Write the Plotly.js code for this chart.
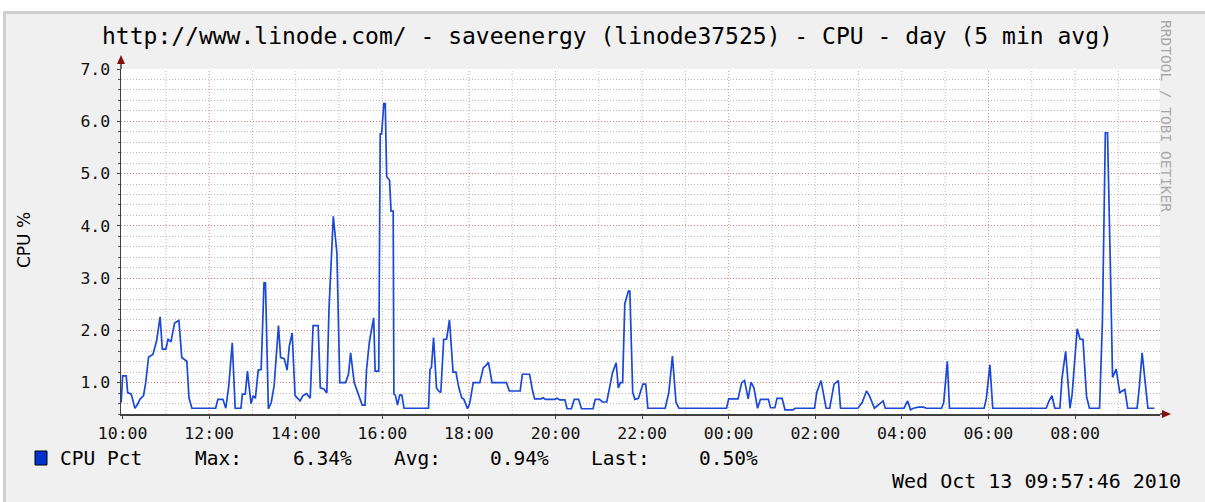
<!DOCTYPE html>
<html><head><meta charset="utf-8">
<script src="https://cdn.plot.ly/plotly-3.0.1.min.js"></script>
<style>
html,body{margin:0;padding:0;background:#ffffff;width:1205px;height:502px;overflow:hidden}
#frame{position:absolute;left:3px;top:11px;width:1202px;height:491px;box-sizing:border-box;border-left:3px solid #cfcfcf;border-top:3px solid #cfcfcf;background:#f0f0f0}
#chart{position:absolute;left:6px;top:14px;width:1199px;height:488px}
</style></head><body>
<div id="frame"></div><div id="chart"></div>
<script>
// ---- data (5 min averages, vertices of the line) ----
const times = ["09:58","10:00","10:05","10:07","10:12","10:17","10:21","10:24","10:29","10:32","10:36","10:42","10:47","10:52","10:55","11:00","11:03","11:07","11:12","11:18","11:22","11:26","11:29","11:32","11:36","12:09","12:12","12:19","12:23","12:27","12:32","12:36","12:44","12:46","12:50","12:53","12:58","13:01","13:04","13:08","13:12","13:16","13:18","13:22","13:26","13:30","13:36","13:39","13:44","13:48","13:51","13:55","13:59","14:06","14:10","14:15","14:20","14:24","14:31","14:34","14:39","14:43","14:46","14:52","14:57","15:01","15:09","15:13","15:16","15:21","15:27","15:32","15:36","15:38","15:42","15:48","15:50","15:55","15:57","15:59","16:02","16:04","16:06","16:10","16:12","16:15","16:16","16:18","16:21","16:24","16:27","16:30","17:04","17:06","17:08","17:11","17:15","17:18","17:21","17:25","17:29","17:33","17:38","17:42","17:46","17:50","17:53","17:58","18:01","18:06","18:15","18:20","18:23","18:27","18:32","18:52","18:56","19:11","19:14","19:24","19:28","19:31","19:40","19:43","19:46","19:59","20:02","20:06","20:13","20:16","20:22","20:26","20:32","20:36","20:52","20:55","21:01","21:05","21:11","21:13","21:19","21:24","21:27","21:30","21:33","21:36","21:41","21:43","21:47","21:50","21:55","22:01","22:05","22:08","22:32","22:37","22:42","22:47","22:51","23:57","00:00","00:13","00:18","00:22","00:27","00:31","00:35","00:40","00:44","00:55","00:58","01:04","01:07","01:14","01:18","01:29","01:32","01:59","02:02","02:08","02:12","02:15","02:20","02:26","02:32","02:35","02:59","03:05","03:11","03:15","03:22","03:25","03:34","03:37","04:03","04:08","04:12","04:16","04:23","04:30","04:34","04:55","04:58","05:03","05:06","05:54","05:57","06:02","06:06","07:20","07:24","07:28","07:32","07:39","07:42","07:47","07:53","07:56","08:03","08:07","08:11","08:16","08:20","08:34","08:38","08:42","08:45","08:49","08:52","08:57","09:02","09:09","09:13","09:26","09:29","09:33","09:37","09:41","09:50"];
const cpuPct = [0.62,1.13,1.13,0.81,0.78,0.51,0.59,0.68,0.75,1.00,1.49,1.54,1.79,2.26,1.64,1.64,1.83,1.78,2.14,2.19,1.48,1.44,1.41,0.71,0.51,0.51,0.68,0.68,0.51,0.92,1.76,0.51,0.51,0.78,0.78,1.22,0.60,0.75,0.70,1.24,1.25,2.91,2.91,0.50,0.62,0.94,2.09,1.48,1.46,1.24,1.70,1.95,0.75,0.65,0.75,0.79,0.70,2.09,2.09,0.90,0.88,0.80,2.40,4.18,3.48,1.00,1.00,1.16,1.57,1.00,0.75,0.57,0.57,1.24,1.78,2.24,1.22,1.22,5.76,5.76,6.34,6.34,4.94,4.87,4.28,4.28,0.78,0.76,0.57,0.76,0.76,0.51,0.51,1.25,1.29,1.86,0.90,0.84,0.81,1.83,1.83,2.20,1.20,1.20,0.90,0.71,0.68,0.50,0.60,1.00,1.00,1.29,1.32,1.39,1.00,1.00,0.84,0.84,1.16,1.16,0.86,0.69,0.69,0.71,0.68,0.68,0.70,0.67,0.67,0.50,0.50,0.68,0.68,0.50,0.50,0.68,0.68,0.63,0.63,0.78,1.19,1.38,0.90,1.00,1.00,2.51,2.75,2.75,0.81,0.68,0.70,0.97,0.97,0.51,0.51,0.81,1.51,0.62,0.51,0.51,0.69,0.69,1.00,1.04,0.69,1.01,0.90,0.51,0.68,0.68,0.52,0.52,0.70,0.70,0.48,0.48,0.51,0.51,0.81,1.04,0.75,0.51,0.51,0.97,1.04,0.51,0.51,0.62,0.84,0.75,0.51,0.55,0.65,0.51,0.51,0.65,0.48,0.51,0.53,0.53,0.51,0.51,0.62,1.41,0.51,0.51,0.69,1.34,0.51,0.51,0.65,0.75,0.51,0.51,1.09,1.60,0.51,0.78,2.03,1.83,1.83,0.73,0.51,0.51,2.19,5.78,5.78,3.21,1.10,1.26,0.81,0.87,0.51,0.51,0.90,1.57,1.04,0.51,0.51];
const xTickLabels = ["10:00","12:00","14:00","16:00","18:00","20:00","22:00","00:00","02:00","04:00","06:00","08:00"];
const yTickValues = [1,2,3,4,5,6,7];
const yTickLabels = ["1.0","2.0","3.0","4.0","5.0","6.0","7.0"];
const seriesName = "CPU Pct";
const statLabels = ["Max:","Avg:","Last:"];
const statValues = ["6.34%","0.94%","0.50%"];
const titleText = "http://www.linode.com/ - saveenergy (linode37525) - CPU - day (5 min avg)";
const yTitle = "CPU %";
const stampText = "Wed Oct 13 09:57:46 2010";
const sideText = "RRDTOOL / TOBI OETIKER";

// ---- helpers ----
function pad(n){return (n<10?"0":"")+n;}
function withDays(list){
  let day=12, prev=null;
  return list.map(function(hm){
    if(prev!==null && hm<prev) day++;
    prev=hm;
    return "2010-10-"+day+" "+hm;
  });
}
const xDates = withDays(times);
const xTickDates = withDays(xTickLabels);

// layout geometry (page pixels of the plot area)
const L=121, R=1160, T=69, B=414;
function X(px){return (px-L)/(R-L);}
function Y(py){return (B-py)/(B-T);}

const MONO = "DejaVu Sans Mono";
const dots = "1px,2px";

// vertical grid: gray every hour, red every 6 hours
const shapes = [];
for(let i=1;i<24;i++){
  const h=10+i, hour=h%24, day=12+Math.floor(h/24);
  shapes.push({type:"line", xref:"x", yref:"y", layer:"below",
    x0:"2010-10-"+day+" "+pad(hour)+":00", x1:"2010-10-"+day+" "+pad(hour)+":00",
    y0:0.4, y1:7.0,
    line:{color: hour%6===0 ? "rgba(235,90,90,0.75)" : "rgba(150,150,150,0.65)", width:1, dash:dots}});
}
// axis extensions and arrows
shapes.push({type:"line", xref:"paper", yref:"paper", x0:0, x1:0, y0:1, y1:Y(61), line:{color:"#404040", width:1.5}});
shapes.push({type:"path", xref:"paper", yref:"paper", path:"M0,"+Y(55)+" L"+(-4/(R-L))+","+Y(64)+" L"+(4/(R-L))+","+Y(64)+" Z", fillcolor:"#801010", line:{width:0}});
shapes.push({type:"line", xref:"paper", yref:"paper", x0:1, x1:X(1164), y0:0, y1:0, line:{color:"#404040", width:1.5}});
shapes.push({type:"path", xref:"paper", yref:"paper", path:"M"+X(1171)+",0 L"+X(1162)+","+(4/(B-T))+" L"+X(1162)+","+(-4/(B-T))+" Z", fillcolor:"#801010", line:{width:0}});
// legend swatch
shapes.push({type:"rect", xref:"paper", yref:"paper", x0:X(35), x1:X(47), y0:Y(465), y1:Y(451), fillcolor:"#0033cc", line:{color:"#000000", width:1}});

const annotations = [
  {text:titleText, x:X(607), y:Y(36), xanchor:"center", yanchor:"middle", font:{family:MONO, size:23, color:"#000"}},
  {text:yTitle, x:X(24), y:Y(240), xanchor:"center", yanchor:"middle", textangle:-90, font:{family:"DejaVu Sans", size:17, color:"#000"}},
  {text:sideText, x:X(1166), y:Y(116), xanchor:"center", yanchor:"middle", textangle:90, font:{family:MONO, size:14.5, color:"#a8a8a8"}},
  {text:seriesName, x:X(58), y:Y(458), xanchor:"left", yanchor:"middle", font:{family:MONO, size:19.5, color:"#000"}},
  {text:stampText, x:X(1183), y:Y(481), xanchor:"right", yanchor:"middle", font:{family:MONO, size:20, color:"#000"}}
];
const statLabelX=[193,392,589], statValueX=[291,488,697];
for(let i=0;i<statLabels.length;i++){
  annotations.push({text:statLabels[i], x:X(statLabelX[i]), y:Y(458), xanchor:"left", yanchor:"middle", font:{family:MONO, size:19.5, color:"#000"}});
  annotations.push({text:statValues[i], x:X(statValueX[i]), y:Y(458), xanchor:"left", yanchor:"middle", font:{family:MONO, size:19.5, color:"#000"}});
}
annotations.forEach(a=>{a.xref="paper"; a.yref="paper"; a.showarrow=false;});

const trace = {x:xDates, y:cpuPct, type:"scatter", mode:"lines", name:seriesName,
  line:{color:"#1a48d8", width:1.7, shape:"linear"}, hoverinfo:"skip"};

const layout = {
  width:1199, height:488,
  margin:{l:L-6, r:1199-(R-6), t:T-14, b:488-(B-14)},
  paper_bgcolor:"rgba(0,0,0,0)", plot_bgcolor:"#ffffff",
  showlegend:false,
  xaxis:{type:"date", range:["2010-10-12 09:57:46","2010-10-13 09:57:46"],
    tickmode:"array", tickvals:xTickDates, ticktext:xTickLabels,
    showgrid:false, zeroline:false, showline:true, linecolor:"#404040", linewidth:1.5,
    ticks:"outside", ticklen:3, tickcolor:"#404040", ticklabelstandoff:1,
    tickfont:{family:MONO, size:16.5, color:"#111"}, fixedrange:true},
  yaxis:{range:[0.4,7.0], tickmode:"array", tickvals:yTickValues, ticktext:yTickLabels,
    showgrid:true, gridcolor:"rgba(235,90,90,0.75)", griddash:dots, gridwidth:1,
    zeroline:false, showline:true, linecolor:"#404040", linewidth:1.5,
    ticks:"outside", ticklen:3, tickcolor:"#404040", ticklabelstandoff:3,
    minor:{dtick:0.2, tick0:0, showgrid:true, gridcolor:"rgba(150,150,150,0.65)", griddash:dots, gridwidth:1, ticks:"outside", ticklen:2, tickcolor:"#606060"},
    tickfont:{family:MONO, size:16.5, color:"#111"}, fixedrange:true},
  shapes:shapes, annotations:annotations
};
Plotly.newPlot("chart", [trace], layout, {displayModeBar:false, staticPlot:true});
</script>
</body></html>
